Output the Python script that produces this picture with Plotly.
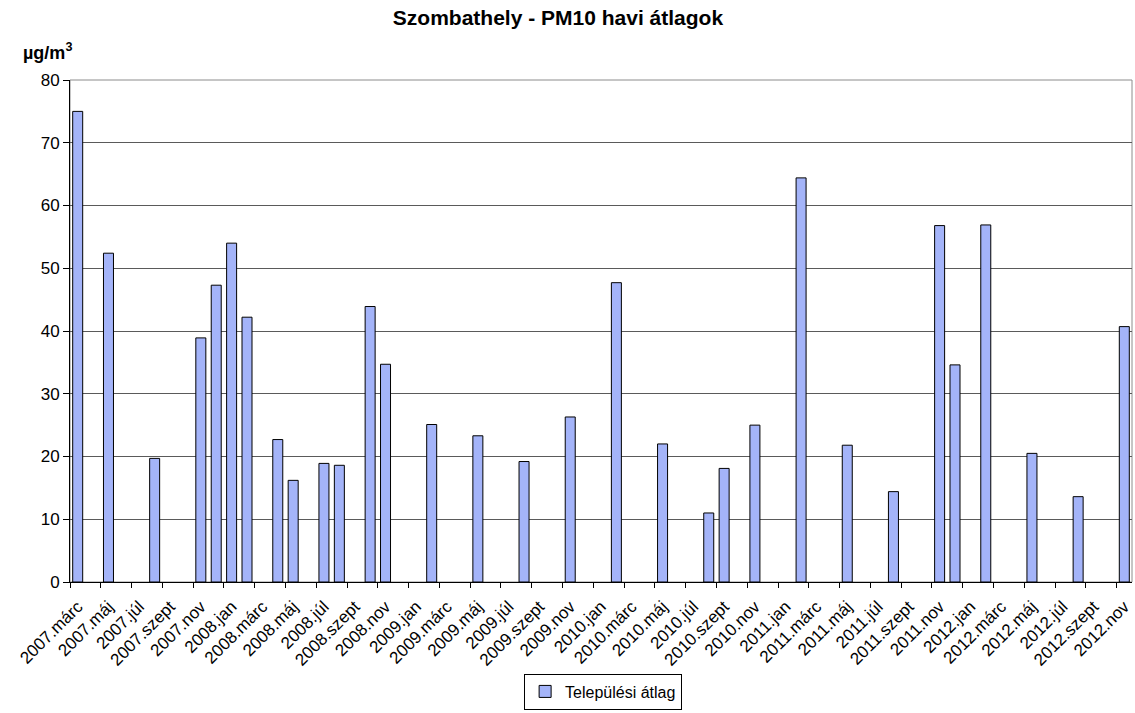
import plotly.graph_objects as go

years = [2007, 2008, 2009, 2010, 2011, 2012]
month_names = ["jan", "febr", "márc", "ápr", "máj", "jún", "júl", "aug", "szept", "okt", "nov", "dec"]

# monthly categories 2007.márc .. 2012.nov
categories = []
for y in years:
    for mi, m in enumerate(month_names):
        if y == 2007 and mi < 2:
            continue
        if y == 2012 and mi > 10:
            continue
        categories.append(f"{y}.{m}")

# measured monthly averages (None = no data)
values_by_month = {
    "2007.márc": 75.0, "2007.máj": 52.4, "2007.aug": 19.7,
    "2007.nov": 38.9, "2007.dec": 47.3, "2008.jan": 54.0, "2008.febr": 42.2,
    "2008.ápr": 22.7, "2008.máj": 16.2, "2008.júl": 18.9, "2008.aug": 18.6,
    "2008.okt": 43.9, "2008.nov": 34.7, "2009.febr": 25.1, "2009.máj": 23.3,
    "2009.aug": 19.2, "2009.nov": 26.3, "2010.febr": 47.7, "2010.máj": 22.0,
    "2010.aug": 11.0, "2010.szept": 18.1, "2010.nov": 25.0, "2011.febr": 64.4,
    "2011.máj": 21.8, "2011.aug": 14.4, "2011.nov": 56.8, "2011.dec": 34.6,
    "2012.febr": 56.9, "2012.máj": 20.5, "2012.aug": 13.6, "2012.nov": 40.7,
}
values = [values_by_month.get(c) for c in categories]

y_ticks = [0, 10, 20, 30, 40, 50, 60, 70, 80]

FONT = "Arial, Liberation Sans, sans-serif"
idx = list(range(len(categories)))

fig = go.Figure()
fig.add_trace(go.Bar(
    x=idx, y=values, name="Települési átlag",
    marker=dict(color="#a4b4f9", line=dict(color="#000000", width=1)),
))

fig.update_layout(
    width=1135, height=713,
    margin=dict(l=70, r=3, t=80, b=129),
    paper_bgcolor="white", plot_bgcolor="white",
    font=dict(family=FONT, size=16, color="#000000"),
    bargap=0.35,
    showlegend=True,
    title=dict(text="<b>Szombathely - PM10 havi átlagok</b>", x=0.4916, xanchor="center",
               y=0.975, yanchor="middle", font=dict(size=21, family=FONT)),
    legend=dict(orientation="h", x=0.502, xanchor="center", y=-0.254, yanchor="bottom",
                bordercolor="#000000", borderwidth=1, bgcolor="white",
                font=dict(size=16, family=FONT), itemwidth=30,
                tracegroupgap=0),
    xaxis=dict(
        range=[-0.5, len(categories) - 0.5],
        automargin=False,
        tickmode="array",
        tickvals=idx[::2],
        ticktext=categories[::2],
        tickangle=-45,
        ticks="",
        ticklabelstandoff=7,
        showgrid=False, zeroline=False,
        showline=True, linecolor="#000000", linewidth=1,
        tickfont=dict(size=17, family=FONT),
        minor=dict(tickmode="linear", tick0=-0.5, dtick=2, ticks="outside", ticklen=5,
                   tickcolor="#000000", showgrid=False),
    ),
    yaxis=dict(
        range=[0, 80], tickvals=y_ticks,
        automargin=False,
        ticks="outside", ticklen=6, tickcolor="#000000",
        showgrid=True, gridcolor="#5a5a5a", gridwidth=1,
        zeroline=False,
        showline=True, linecolor="#000000", linewidth=1,
        tickfont=dict(size=17, family=FONT),
    ),
    shapes=[dict(type="rect", xref="paper", yref="paper", x0=0, x1=1, y0=0, y1=1,
                 line=dict(color="#8c8c8c", width=1), layer="below")],
    annotations=[dict(text="<b>µg/m<sup>3</sup></b>", xref="paper", yref="paper",
                      x=-0.046, xanchor="left", y=1.056, yanchor="middle",
                      showarrow=False, font=dict(size=18, family=FONT))],
)

fig.write_html("out.html",
               config={"displayModeBar": False},
               post_script="document.body.style.margin='0';document.body.style.overflow='hidden';")
